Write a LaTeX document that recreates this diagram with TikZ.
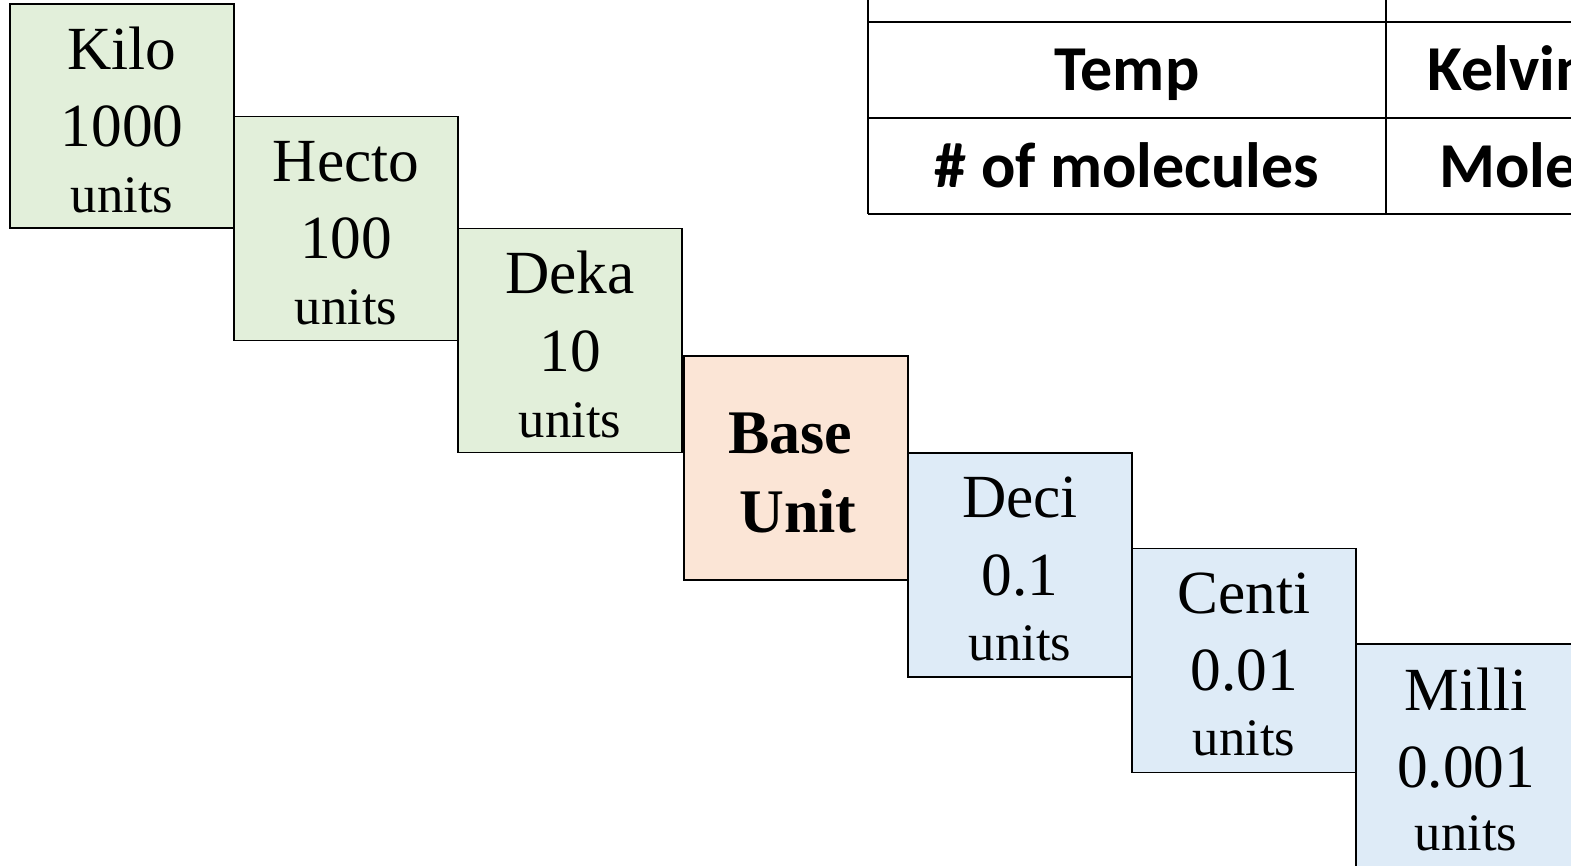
\documentclass[tikz,border=0pt]{standalone}
\usepackage{fontspec}
\setmainfont{Liberation Serif}
\newfontfamily\calib{Carlito}
\definecolor{pgreen}{HTML}{E2EFDA}
\definecolor{porange}{HTML}{FBE5D6}
\definecolor{pblue}{HTML}{DEEBF7}
\begin{document}
\begin{tikzpicture}[x=0.75pt,y=-0.75pt,
  unitbox/.style={draw=black,line width=1.1pt,rectangle,inner sep=0pt,minimum width=168pt,minimum height=168pt},
  big/.style={anchor=base,inner sep=0pt,font=\fontsize{46}{50}\selectfont},
  small/.style={anchor=base,inner sep=0pt,font=\fontsize{39.5}{44}\selectfont},
  bigb/.style={anchor=base,inner sep=0pt,font=\fontsize{46.5}{50}\selectfont\bfseries},
  tline/.style={line width=1.6pt,black},
  ttext/.style={inner sep=0pt,font=\calib\bfseries\fontsize{48}{52}\selectfont}]
\useasboundingbox (0,0) rectangle (1571,866);
% table
\coordinate (tl) at (868,0);
\coordinate (tm) at (1386,0);
\coordinate (r1l) at (868,22);
\coordinate (r1r) at (1571,22);
\coordinate (r2l) at (868,118);
\coordinate (r2r) at (1571,118);
\coordinate (r3l) at (868,214);
\coordinate (r3r) at (1571,214);
\coordinate (bm) at (1386,214);
\draw[tline] (r1l) -- (r1r);
\draw[tline] (r2l) -- (r2r);
\draw[tline] (r3l) -- (r3r);
\draw[tline] (tl) -- (r3l);
\draw[tline] (tm) -- (bm);
\node[ttext,anchor=base] (temp) at (1127,91) {Temp};
\node[ttext,anchor=base] (mols) at (1127,188) {\# of molecules};
\node[ttext,anchor=base west] (kelvin) at (1427,91) {Kelvin};
\node[ttext,anchor=base west] (mole) at (1439,188) {Mole};
% boxes
\node[unitbox,fill=pgreen] (kilo) at (122,116) {};
\node[unitbox,fill=pgreen] (hecto) at (346,228.5) {};
\node[unitbox,fill=pgreen] (deka) at (570,340.5) {};
\node[unitbox,fill=porange] (base) at (796,468) {};
\node[unitbox,fill=pblue] (deci) at (1020,565) {};
\node[unitbox,fill=pblue] (centi) at (1244,660.5) {};
\node[unitbox,fill=pblue] (milli) at (1468,756) {};
% texts
\node[big] (t1a) at (122,70) {Kilo};
\node[big] (t1b) at (122,147) {1000};
\node[small] (t1c) at (122,213) {units};
\node[big] (t2a) at (346,182) {Hecto};
\node[big] (t2b) at (346,259) {100};
\node[small] (t2c) at (346,325) {units};
\node[big] (t3a) at (570,294) {Deka};
\node[big] (t3b) at (570,371) {10};
\node[small] (t3c) at (570,437) {units};
\node[bigb] (t4a) at (790,453) {Base};
\node[bigb] (t4b) at (798,532) {Unit};
\node[big] (t5a) at (1020,517) {Deci};
\node[big] (t5b) at (1020,595) {0.1};
\node[small] (t5c) at (1020,660) {units};
\node[big] (t6a) at (1244,613) {Centi};
\node[big] (t6b) at (1244,690) {0.01};
\node[small] (t6c) at (1244,755) {units};
\node[big] (t7a) at (1466,710) {Milli};
\node[big] (t7b) at (1466,787) {0.001};
\node[small] (t7c) at (1466,850) {units};
\end{tikzpicture}
\end{document}
